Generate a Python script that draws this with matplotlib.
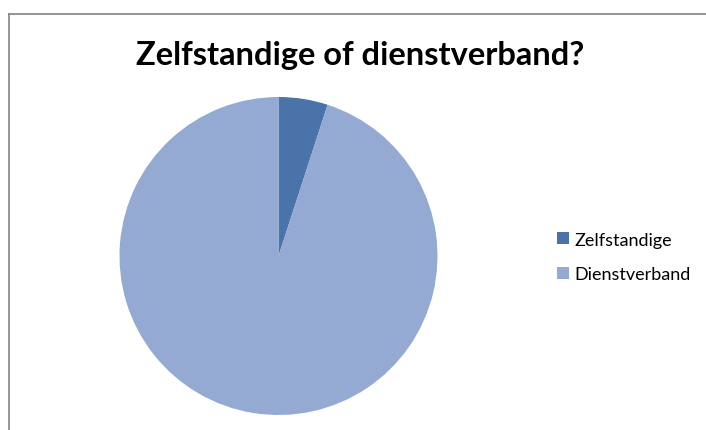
import matplotlib
matplotlib.use("Agg")
import matplotlib.pyplot as plt
from matplotlib.lines import Line2D

labels = ["Zelfstandige", "Dienstverband"]
values = [5, 95]
colours = ["#4A73A9", "#95AAD3"]

W, H = 706, 431
fig = plt.figure(figsize=(W / 100, H / 100), dpi=100)
fig.patch.set_facecolor("white")

# frame of the chart area (runs off right and bottom edges)
FRAME = "#8C8C8C"
fig.add_artist(Line2D([9 / W, 9 / W], [0, 1 - 15 / H], color=FRAME, lw=1.3))
fig.add_artist(Line2D([9 / W, 1], [1 - 15 / H, 1 - 15 / H], color=FRAME, lw=1.3))

cx, cy, r = 278.5, 257, 159
ax = fig.add_axes([(cx - r) / W, (H - cy - r) / H, 2 * r / W, 2 * r / H])
wedges, _ = ax.pie(values, colors=colours, startangle=90, counterclock=False,
                   radius=1, wedgeprops=dict(linewidth=0))
ax.set_xlim(-1, 1)
ax.set_ylim(-1, 1)
ax.axis("off")

fig.text(360 / W, 1 - 55 / H, "Zelfstandige of dienstverband?",
         ha="center", va="center", fontsize=23.5, fontweight="bold",
         family="Lato", color="black")

fig.legend(wedges, labels, loc="center left",
           bbox_to_anchor=(541 / W, 1 - 258 / H), frameon=False,
           prop=dict(family="Lato", size=13),
           handlelength=0.65, handleheight=0.65, handletextpad=0.3,
           labelspacing=1.05)

fig.savefig("out.png", dpi=100, facecolor="white")
